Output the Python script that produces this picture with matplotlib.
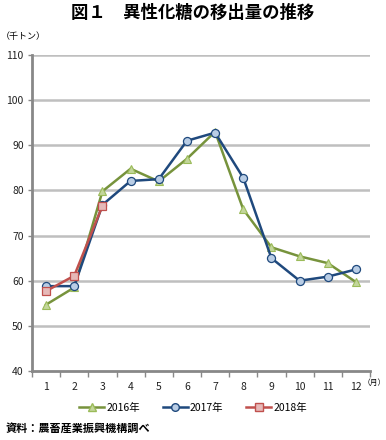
import matplotlib
matplotlib.use("Agg")
import matplotlib.pyplot as plt
from matplotlib.lines import Line2D

plt.rcParams['font.family'] = ['Noto Sans CJK JP', 'DejaVu Sans']

months = [1, 2, 3, 4, 5, 6, 7, 8, 9, 10, 11, 12]
month_labels = ["1", "2", "3", "4", "5", "6", "7", "8", "9", "10", "11", "12"]
y2016 = [54.7, 58.5, 79.8, 84.8, 82.0, 87.0, 93.0, 75.8, 67.4, 65.4, 63.9, 59.7]
y2017 = [58.8, 58.8, 76.8, 82.1, 82.5, 91.0, 92.8, 82.8, 65.0, 60.0, 60.9, 62.5]
y2018 = [57.7, 61.1, 76.6]
yticks = [40, 50, 60, 70, 80, 90, 100, 110]

fig = plt.figure(figsize=(3.86, 4.40), dpi=100)
ax = fig.add_axes([32/386, 1-371/440, 338/386, 316/440])

ax.set_xlim(0.5, 12.5)
ax.set_ylim(40, 110)

for v in yticks[1:]:
    ax.axhline(v, color='#bfbfbf', lw=1.8, zorder=0)

ax.plot(months, y2016, color='#77933c', lw=1.8, marker='^', ms=6,
        mfc='#c3d69b', mec='#9bbb59', mew=0.8, zorder=3)
ax.plot(months, y2017, color='#1f497d', lw=1.8, marker='o', ms=5.8,
        mfc='#b9cde5', mec='#1f497d', mew=0.9, zorder=4)
ax.plot(months[:len(y2018)], y2018, color='#c0504d', lw=1.8, marker='s', ms=5.8,
        mfc='#e6b9b8', mec='#c0504d', mew=0.9, zorder=5)

ax.set_yticks(yticks)
ax.set_yticklabels([str(v) for v in yticks], fontsize=7.5, color='#222222')
ax.set_xticks(months)
ax.set_xticklabels(month_labels, fontsize=7.5, color='#222222')
ax.set_xticks([0.5 + i for i in range(13)], minor=True)
ax.tick_params(axis='x', which='major', length=0, pad=8)
ax.tick_params(axis='x', which='minor', length=4, color='#888888', width=1)
ax.tick_params(axis='y', length=3, color='#888888', width=1, pad=3)

for s in ['top', 'right']:
    ax.spines[s].set_visible(False)
for s in ['left', 'bottom']:
    ax.spines[s].set_color('#888888')
    ax.spines[s].set_linewidth(2.0)

fig.text(0.5, 1-13/440, '図１　異性化糖の移出量の推移', ha='center', va='center',
         fontsize=12.5, fontweight='bold')
fig.text(1/386, 1-37/440, '（千トン）', ha='left', va='center', fontsize=6.5)
fig.text(385.5/386, 1-383/440, '（月）', ha='right', va='center', fontsize=5.6)
fig.text(6/386, 1-428/440, '資料：農畜産業振興機構調べ', ha='left', va='center',
         fontsize=8, fontweight='bold')

handles = [
    Line2D([], [], color='#77933c', lw=1.8, marker='^', ms=5.5, mfc='#c3d69b', mec='#9bbb59'),
    Line2D([], [], color='#1f497d', lw=1.8, marker='o', ms=5.5, mfc='#b9cde5', mec='#1f497d'),
    Line2D([], [], color='#c0504d', lw=1.8, marker='s', ms=5.5, mfc='#e6b9b8', mec='#c0504d'),
]
fig.legend(handles, ['2016年', '2017年', '2018年'], loc='center',
           bbox_to_anchor=(0.5, 1-408/440), ncol=3, frameon=False, fontsize=7.5,
           handlelength=2.4, handletextpad=0.2, columnspacing=2.2)

fig.savefig('out.png', dpi=100)
